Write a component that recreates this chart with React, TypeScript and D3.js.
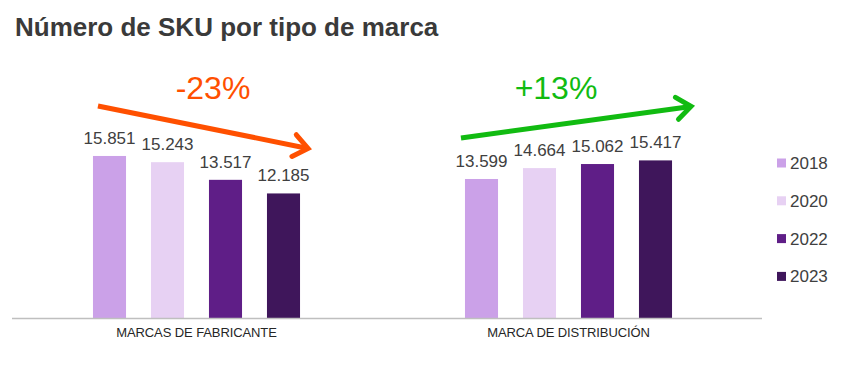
import React from "react";
import * as d3 from "d3";

const categories = ["MARCAS DE FABRICANTE", "MARCA DE DISTRIBUCIÓN"];
const years = ["2018", "2020", "2022", "2023"];
const fabricante = [15851, 15243, 13517, 12185];
const distribucion = [13599, 14664, 15062, 15417];
const colors = ["#CBA1E8", "#E7D1F3", "#5F1E87", "#3F165B"];
const changes = ["-23%", "+13%"];
const changeColors = ["#FF5000", "#11BB11"];

const fmt = (v: number) => d3.format(",")(v).replace(/,/g, ".");

export default function App() {
  const W = 858, H = 365;
  const series = [fabricante, distribucion];
  const x0 = d3.scaleBand<string>().domain(categories).range([10.5, 754.5]).padding(0);
  const x1 = d3.scaleBand<string>().domain(years).range([-116, 116]).paddingInner(0.43).paddingOuter(0.215);
  const y = d3.scaleLinear().domain([0, 18000]).range([318, 134]);

  const font = "Arial, 'Liberation Sans', sans-serif";

  const arrows = categories.map((c, i) => {
    const gx = x0(c)! + x0.bandwidth() / 2;
    const vals = series[i];
    const first = gx + x1(years[0])!;
    const last = gx + x1(years[3])! + x1.bandwidth();
    if (i === 0) {
      return { x1: first + 5, y1: y(vals[0]) - 50, x2: last + 8, y2: y(vals[3]) - 45 };
    }
    return { x1: first - 4, y1: y(vals[0]) - 41, x2: last + 19, y2: y(vals[3]) - 54 };
  });

  return (
    <svg width={W} height={H} style={{ position: "absolute", left: 0, top: 0, background: "#fff" }}>
      <text x={15} y={36} fontFamily={font} fontWeight="bold" fontSize={26} fill="#3A3A3A">
        Número de SKU por tipo de marca
      </text>
      {categories.map((c, i) => {
        const gx = x0(c)! + x0.bandwidth() / 2;
        return (
          <g key={c}>
            {years.map((yr, j) => {
              const v = series[i][j];
              const bx = gx + x1(yr)!;
              return (
                <g key={yr}>
                  <rect x={bx} y={y(v)} width={x1.bandwidth()} height={y(0) - y(v)} fill={colors[j]} />
                  <text x={bx + x1.bandwidth() / 2} y={y(v) - 12} textAnchor="middle" fontFamily={font} fontSize={17} fill="#404040">
                    {fmt(v)}
                  </text>
                </g>
              );
            })}
            <text x={gx} y={337} textAnchor="middle" fontFamily={font} fontSize={13} fill="#262626" letterSpacing={-0.1}>
              {c}
            </text>
          </g>
        );
      })}
      <line x1={12} x2={762} y1={318.5} y2={318.5} stroke="#BFBFBF" strokeWidth={1.5} />
      {arrows.map((a, i) => {
        const ang = Math.atan2(a.y2 - a.y1, a.x2 - a.x1);
        const L = 18, spread = (38 * Math.PI) / 180;
        const p1 = [a.x2 - L * Math.cos(ang - spread), a.y2 - L * Math.sin(ang - spread)];
        const p2 = [a.x2 - L * Math.cos(ang + spread), a.y2 - L * Math.sin(ang + spread)];
        const cx = i === 0 ? 213 : 556;
        return (
          <g key={i}>
            <line x1={a.x1} y1={a.y1} x2={a.x2} y2={a.y2} stroke={changeColors[i]} strokeWidth={5} />
            <polyline points={`${p1[0]},${p1[1]} ${a.x2},${a.y2} ${p2[0]},${p2[1]}`} fill="none" stroke={changeColors[i]} strokeWidth={5} strokeLinejoin="miter" strokeLinecap="round" />
            <text x={cx} y={99} textAnchor="middle" fontFamily={font} fontSize={32} fill={changeColors[i]}>
              {changes[i]}
            </text>
          </g>
        );
      })}
      {years.map((yr, j) => {
        const cy = 163 + j * 37.8;
        return (
          <g key={yr}>
            <rect x={777} y={cy - 4.5} width={9} height={9} fill={colors[j]} />
            <text x={790} y={cy + 6} fontFamily={font} fontSize={17} fill="#404040">{yr}</text>
          </g>
        );
      })}
    </svg>
  );
}
